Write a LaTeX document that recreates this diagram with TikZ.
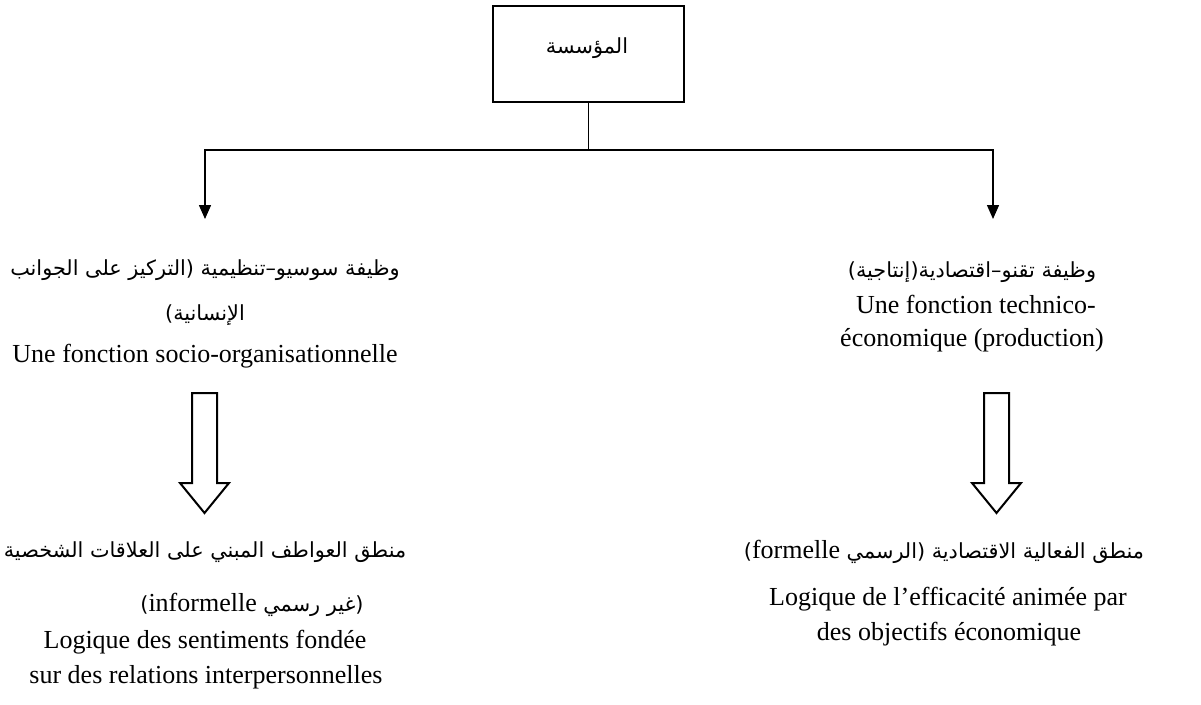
\documentclass[tikz,border=0pt]{standalone}
\usepackage{fontspec}
\setmainfont{Liberation Serif}
\newfontfamily\arabicfont[Script=Arabic]{DejaVu Sans}
\TeXXeTstate=1
\usetikzlibrary{arrows.meta}

% Arabic run, set right to left
\newcommand\arabtext[1]{{\arabicfont\fontsize{20.8}{24}\selectfont\beginR #1\endR}}
% Latin run inside Arabic text
\newcommand\latintext[1]{\beginL{\rmfamily\fontsize{26}{30}\selectfont #1}\endL}

\tikzset{
  line/.style={line width=1.5pt, line cap=rect},
  tip/.style={line, -{Triangle[length=14pt,width=12pt]}},
  frame/.style={draw, line width=2pt, minimum width=191pt, minimum height=96pt, inner sep=0pt},
  label/.style={anchor=base, inner sep=0pt, font=\fontsize{26}{30}\selectfont},
  hollow/.style={draw, line width=2pt, fill=white, line join=miter},
}

\begin{document}
\begin{tikzpicture}[x=1pt, y=-1pt]
  \useasboundingbox (0,0) rectangle (1201,704);

  % root box
  \node[frame] (org) at (588.5,54) {};
  \node[label] (orgname) at (587,53) {\arabtext{المؤسسة}};

  % branch to the two functions
  \draw[line] (org.south) -- (588.5,150) coordinate (split);
  \coordinate (lefthead) at (205,219);
  \coordinate (righthead) at (993,219);
  \draw[tip] (split) -| (lefthead);
  \draw[tip] (split) -| (righthead);

  % socio-organisational function
  \node[label] (lf1) at (205,275) {\arabtext{وظيفة سوسيو–تنظيمية (التركيز على الجوانب}};
  \node[label] (lf2) at (205,320) {\arabtext{الإنسانية)}};
  \node[label] (lf3) at (205,362) {Une fonction socio-organisationnelle};

  % techno-economic function
  \node[label] (rf1) at (972,277) {\arabtext{وظيفة تقنو–اقتصادية(إنتاجية)}};
  \node[label] (rf2) at (976,313) {Une fonction technico-};
  \node[label] (rf3) at (972,346) {économique (production)};

  % hollow block arrows
  \coordinate (lba) at (204.5,393);
  \coordinate (rba) at (996.5,393);
  \draw[hollow] (lba) ++(-12.5,0) -- ++(25,0) -- ++(0,90) -- ++(12,0)
    -- ++(-24.5,30) -- ++(-24.5,-30) -- ++(12,0) -- cycle;
  \draw[hollow] (rba) ++(-12.5,0) -- ++(25,0) -- ++(0,90) -- ++(12,0)
    -- ++(-24.5,30) -- ++(-24.5,-30) -- ++(12,0) -- cycle;

  % logic of sentiments
  \node[label] (ll1) at (205,557) {\arabtext{منطق العواطف المبني على العلاقات الشخصية}};
  \node[label] (ll2) at (252,611) {\arabtext{(غير رسمي \latintext{informelle})}};
  \node[label] (ll3) at (205,648) {Logique des sentiments fondée};
  \node[label] (ll4) at (206,683) {sur des relations interpersonnelles};

  % logic of efficiency
  \node[label] (rl1) at (944,558) {\arabtext{منطق الفعالية الاقتصادية (الرسمي \latintext{formelle})}};
  \node[label] (rl2) at (948,605) {Logique de l’efficacité animée par};
  \node[label] (rl3) at (949,640) {des objectifs économique};
\end{tikzpicture}
\end{document}
